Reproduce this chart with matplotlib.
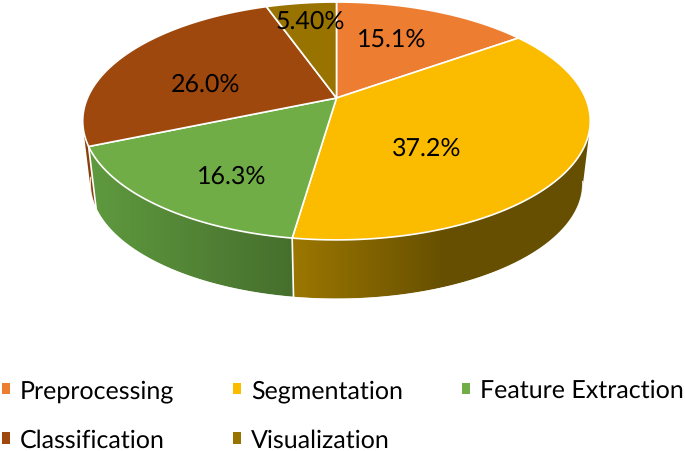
import numpy as np
import matplotlib
matplotlib.use("Agg")
import matplotlib.pyplot as plt
from matplotlib.colors import to_rgb
from matplotlib.patches import Patch, Polygon

plt.rcParams["text.hinting"] = "no_hinting"
plt.rcParams["text.hinting_factor"] = 1

# data
categories = ["Preprocessing", "Segmentation", "Feature Extraction", "Classification", "Visualization"]
shares = [15.1, 37.2, 16.3, 26.0, 5.4]
shareLabels = ["15.1%", "37.2%", "16.3%", "26.0%", "5.40%"]

# styles
colors = ["#ED7D31", "#FBBC00", "#70AD47", "#9E480E", "#997300"]
sideLeft = ["#C46526", "#9C7700", "#5F9A3F", "#8A3F0C", "#7A5C00"]
sideRight = ["#C46526", "#664F00", "#466F2D", "#8A3F0C", "#7A5C00"]
sideFadeEnd = [600, 445, 292, 600, 600]   # x pixel where the side shading stops
labelPos = [(392, 40), (427, 149), (232, 177), (206, 85), (310, 22)]

# pie geometry in image pixels, top face is a circle seen in perspective
cx, cy = 336.5, 99
radiusX, radiusY = 249, 114.5
persp = 0.193
depth = 63
bottomScale = 0.97


def project(angle, drop=0.0, scale=1.0):
    # angle in degrees, clockwise from 12 o'clock
    a = np.radians(angle)
    X, Y = np.sin(a), np.cos(a)
    den = 1 + persp * Y
    return cx + scale * radiusX * X / den, cy + drop - scale * radiusY * Y / den


def cross(o, a, b):
    return (a[0] - o[0]) * (b[1] - o[1]) - (a[1] - o[1]) * (b[0] - o[0])


def convexHull(points):
    # monotone chain, the chord side ends up hidden below the top faces
    pts = sorted(set(points))
    lower, upper = [], []
    for p in pts:
        while len(lower) >= 2 and cross(lower[-2], lower[-1], p) <= 0:
            lower.pop()
        lower.append(p)
    for p in reversed(pts):
        while len(upper) >= 2 and cross(upper[-2], upper[-1], p) <= 0:
            upper.pop()
        upper.append(p)
    return lower[:-1] + upper[:-1]


fig = plt.figure(figsize=(6.85, 4.52), dpi=100)
ax = fig.add_axes([0, 0, 1, 1])

edges = np.concatenate([[0], np.cumsum(shares)]) * 3.6 / (sum(shares) / 100)

# -----------------------------------------
# Sides first, a horizontal gradient clipped to each side
# -----------------------------------------
drawOrder = [0, 4, 3, 1, 2]
for i in drawOrder:
    steps = np.linspace(edges[i], edges[i + 1], 160)
    xTop, yTop = project(steps)
    xBot, yBot = project(steps, depth, bottomScale)
    hull = convexHull(list(zip(xTop, yTop)) + list(zip(xBot, yBot)))
    x0 = min(xTop.min(), xBot.min())
    x1 = max(xTop.max(), xBot.max())
    xs = np.linspace(x0, x1, 256)
    t = np.clip((xs - x0) / max(sideFadeEnd[i] - x0, 1), 0, 1)[None, :, None]
    gradient = (1 - t) * np.array(to_rgb(sideLeft[i])) + t * np.array(to_rgb(sideRight[i]))
    patch = Polygon(hull, closed=True, facecolor="none", edgecolor="none", transform=ax.transData)
    ax.add_patch(patch)
    im = ax.imshow(gradient, extent=(x0, x1, 330, 0), aspect="auto", zorder=2, interpolation="bilinear")
    im.set_clip_path(patch)

# white seams on the visible side edges
for angle in [edges[2], edges[3]]:
    xa, ya = project(angle)
    xb, yb = project(angle, depth, bottomScale)
    ax.plot([xa, xb], [ya, yb], color="white", lw=1.2, zorder=3)

# soften the clipped lower rim, only where the rim is the outline
rim = np.linspace(100, 262, 300)
xRim, yRim = project(rim, depth, bottomScale)
ax.plot(xRim, yRim + 0.5, color="white", lw=0.9, alpha=0.8, zorder=3)

# -----------------------------------------
# Top faces
# -----------------------------------------
for i in range(len(shares)):
    steps = np.linspace(edges[i], edges[i + 1], 200)
    xTop, yTop = project(steps)
    ax.fill(np.concatenate([[cx], xTop]), np.concatenate([[cy], yTop]),
            facecolor=colors[i], edgecolor="white", lw=1.2, joinstyle="round", zorder=4)

for i in range(len(shares)):
    ax.text(labelPos[i][0], labelPos[i][1], shareLabels[i], ha="center", va="center",
            fontsize=17.8, family="Lato", color="black", zorder=5)

ax.set_xlim(0, 685)
ax.set_ylim(452, 0)
ax.axis("off")

# legend fills column by column, so feed it in that order
legendOrder = [0, 3, 1, 4, 2]
handles = [Patch(facecolor=colors[i], edgecolor="none", label=categories[i]) for i in legendOrder]
ax.legend(handles=handles, ncol=3, frameon=False, loc="lower left",
          bbox_to_anchor=(2, 452), bbox_transform=ax.transData,
          prop={"family": "Lato", "size": 17.7},
          handlelength=0.33, handleheight=0.33, handletextpad=0.4,
          columnspacing=2.4, labelspacing=1.08, borderpad=0, borderaxespad=0)

fig.savefig("out.png", dpi=100)
